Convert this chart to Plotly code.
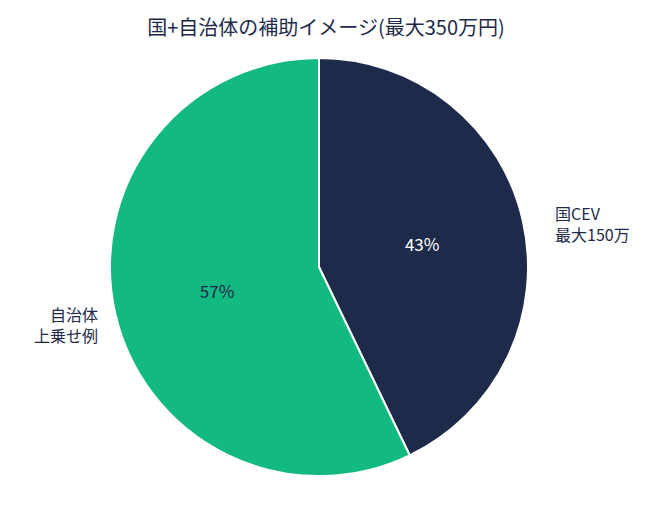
import plotly.graph_objects as go

labels = ["国CEV<br>最大150万", "自治体<br>上乗せ例"]
values = [150, 200]
colors = ["#1e2a4a", "#12b981"]
text_colors = ["white", "#1e2a4a"]

W, H = 648, 508
font = "Noto Sans CJK JP"

fig = go.Figure()
fig.add_trace(go.Pie(
    labels=labels,
    values=values,
    sort=False,
    direction="clockwise",
    rotation=0,
    marker=dict(colors=colors, line=dict(color="white", width=2)),
    textinfo="percent",
    texttemplate="%{percent:.0%}",
    textposition="inside",
    insidetextorientation="horizontal",
    textfont=dict(family=font, size=17, color=text_colors),
    showlegend=False,
    hoverinfo="label+value",
    domain=dict(x=[102 / W, 520 / W], y=[40 / H, 458 / H]),
))

fig.add_annotation(x=545 / W, y=1 - 215 / H, xref="paper", yref="paper",
                   text=labels[0], showarrow=False, xanchor="left", align="left",
                   font=dict(family=font, size=16, color="#1e2a4a"))
fig.add_annotation(x=92 / W, y=1 - 316 / H, xref="paper", yref="paper",
                   text=labels[1], showarrow=False, xanchor="right", align="right",
                   font=dict(family=font, size=16, color="#1e2a4a"))

fig.update_layout(
    width=W, height=H,
    margin=dict(l=0, r=0, t=0, b=0),
    paper_bgcolor="white",
    title=dict(text="国+自治体の補助イメージ(最大350万円)", x=318 / W, xanchor="center",
               y=1 - 20 / H, yanchor="middle",
               font=dict(family=font, size=20, color="#1e2a4a")),
)

fig.write_html("out.html")
